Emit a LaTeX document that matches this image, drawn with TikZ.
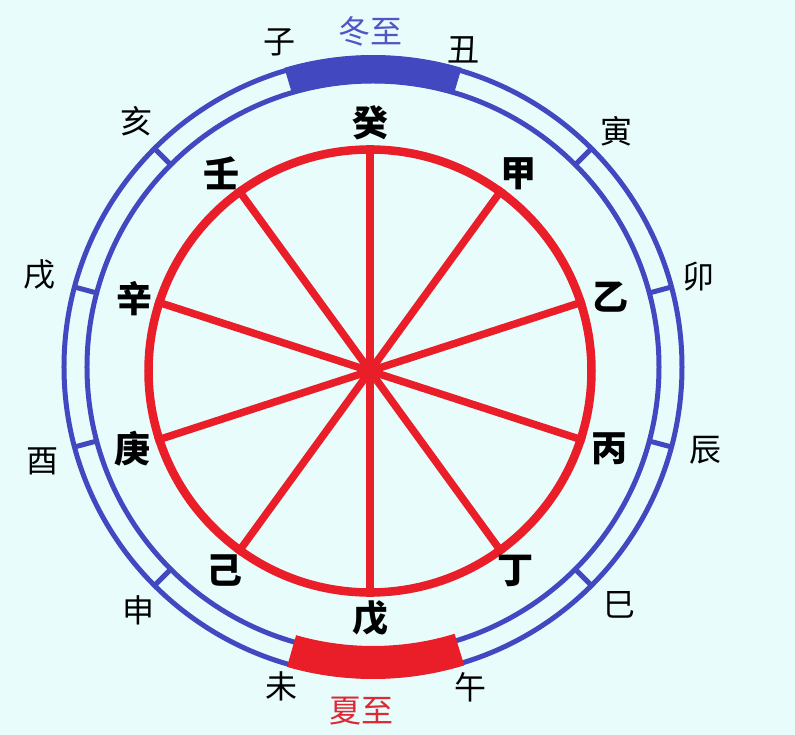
\documentclass[tikz,border=0pt]{standalone}
\usepackage{fontspec}
\newfontfamily\cjk{Noto Sans CJK SC}
\definecolor{bgcyan}{RGB}{232,252,252}
\definecolor{ringblue}{RGB}{66,72,192}
\definecolor{wheelred}{RGB}{234,30,40}
\definecolor{winterblue}{RGB}{82,86,196}
\definecolor{summerred}{RGB}{222,40,52}
\tikzset{
  stem/.style={font=\cjk\bfseries\fontsize{36}{36}\selectfont, text=black, inner sep=0pt},
  branch/.style={font=\cjk\fontsize{32}{32}\selectfont, text=black, inner sep=0pt},
  solstice/.style={font=\cjk\fontsize{32}{32}\selectfont, inner sep=0pt},
  spoke/.style={wheelred, line width=7.5pt},
  ring/.style={ringblue, line width=5pt},
}

\begin{document}
\begin{tikzpicture}[x=1pt, y=1pt]
  \fill[bgcyan] (-370,-364) rectangle (425,371);
  \useasboundingbox (-370,-364) rectangle (425,371);

  % twelve branches ring
  \begin{scope}[shift={(3,4)}]
    \draw[ring] (0,0) circle[radius=309];
    \draw[ring] (0,0) circle[radius=286];
    \foreach \a in {15,45,...,345} \draw[ring] (\a:286) -- (\a:309);
    \fill[ringblue] (106.5:284) arc[start angle=106.5, end angle=73.5, radius=284]
      -- (73.5:312) arc[start angle=73.5, end angle=106.5, radius=312] -- cycle;
    \fill[wheelred] (-106:279) arc[start angle=-106, end angle=-73, radius=279]
      -- (-73:312) arc[start angle=-73, end angle=-106, radius=312] -- cycle;

    \node[branch] (zi) at (106:338) {子};
    \node[branch] (chou) at (74:330) {丑};
    \node[branch] (yin) at (44:339) {寅};
    \node[branch] (mao) at (15.5:338) {卯};
    \node[branch] (chen) at (-14:343) {辰};
    \node[branch] (si) at (-44:342) {巳};
    \node[branch] (wuu) at (-73:335) {午};
    \node[branch] (wei) at (-106:332) {未};
    \node[branch] (shen) at (-134:338) {申};
    \node[branch] (you) at (-164:344) {酉};
    \node[branch] (xu) at (164.5:346) {戌};
    \node[branch] (hai) at (134:341) {亥};
  \end{scope}

  \node[solstice, text=winterblue] (dongzhi) at (1,340) {冬至};
  \node[solstice, text=summerred] (xiazhi) at (-8,-340) {夏至};

  % ten stems wheel
  \node[circle, draw=wheelred, line width=8.5pt, inner sep=0pt, minimum size=443pt] (wheel) at (0,0) {};
  \draw[spoke] (wheel.90) -- (wheel.270);
  \draw[spoke] (wheel.54) -- (wheel.234);
  \draw[spoke] (wheel.18) -- (wheel.198);
  \draw[spoke] (wheel.-18) -- (wheel.162);
  \draw[spoke] (wheel.-54) -- (wheel.126);

  \node[stem] (gui) at (90:248) {癸};
  \node[stem] (jia) at (53:247) {甲};
  \node[stem] (yi) at (17:252) {乙};
  \node[stem] (bing) at (-18:252) {丙};
  \node[stem] (ding) at (-54:247) {丁};
  \node[stem] (wu) at (-90:247) {戊};
  \node[stem] (ji) at (-126:247) {己};
  \node[stem] (geng) at (-162:250) {庚};
  \node[stem] (xin) at (163:246) {辛};
  \node[stem] (ren) at (127:247) {壬};
\end{tikzpicture}
\end{document}
